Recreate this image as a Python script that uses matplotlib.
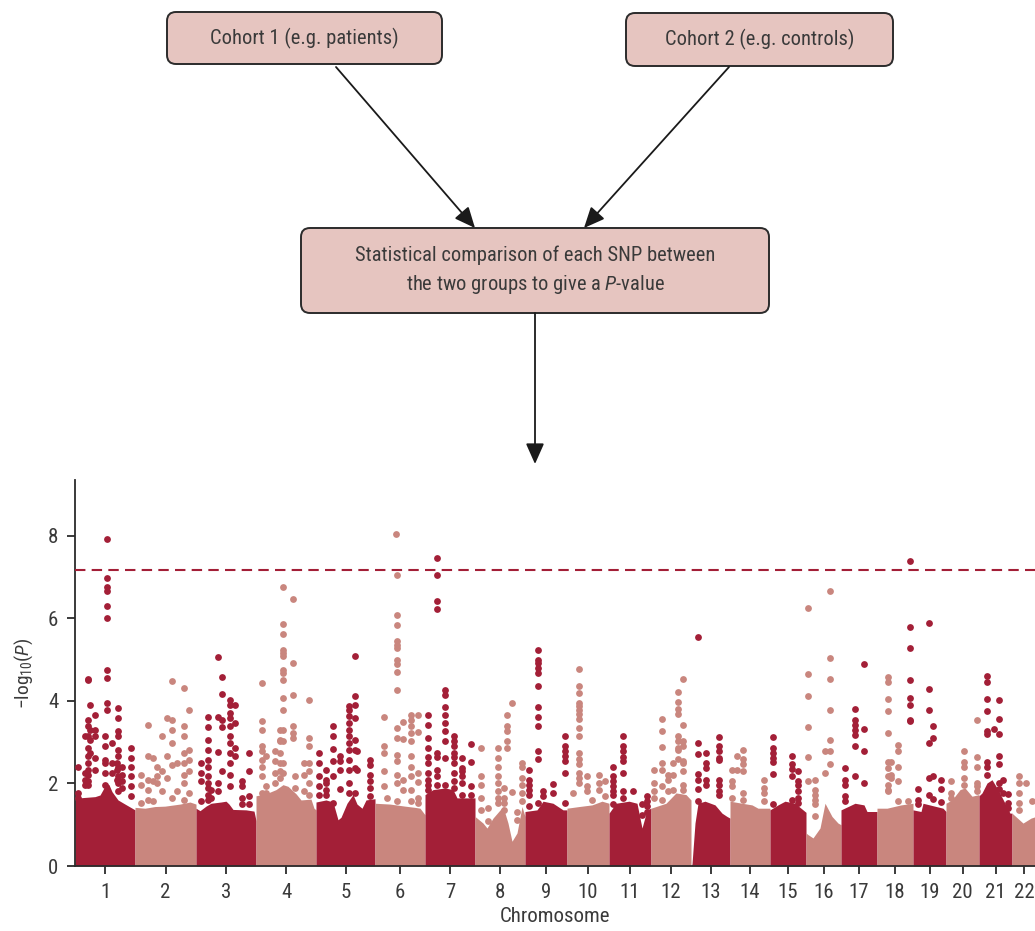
import numpy as np
import matplotlib
matplotlib.use('Agg')
import matplotlib.pyplot as plt
from matplotlib.patches import FancyBboxPatch

plt.rcParams['font.family'] = ['Roboto Condensed', 'DejaVu Sans']
plt.rcParams['mathtext.fontset'] = 'custom'
plt.rcParams['mathtext.rm'] = 'Roboto Condensed'
plt.rcParams['mathtext.it'] = 'Roboto Condensed:italic'

# chromosomes and their drawn widths on the x axis
chrom_names = [str(i) for i in range(1, 23)]
chrom_width = [60, 61, 60, 60, 59, 50, 50, 50, 42, 42, 42, 40, 39, 40, 36, 35, 36, 36, 33, 33, 33, 24]

# top of the dense SNP cloud per chromosome (position in chromosome, -log10 P)
fill_pos = [
    [0, 4, 20, 25, 28, 31, 34, 37, 43, 50, 60],
    [0, 10, 20, 30, 45, 55, 61],
    [0, 4, 10, 15, 25, 30, 33, 37, 50, 58, 60],
    [0, 10, 20, 27, 32, 40, 45, 55, 58, 60],
    [0, 10, 17, 22, 25, 31, 37, 41, 46, 50, 59],
    [0, 15, 30, 40, 45, 50],
    [0, 8, 20, 28, 32, 50],
    [0, 8, 12, 18, 28, 33, 37, 42, 47, 50],
    [0, 12, 18, 28, 38, 42],
    [0, 12, 25, 35, 42],
    [0, 7, 20, 28, 33, 38, 42],
    [0, 15, 25, 35, 40],
    [0, 1, 4, 7, 14, 24, 31, 36, 39],
    [0, 12, 22, 28, 40],
    [0, 8, 15, 25, 36],
    [0, 2, 7, 14, 19, 26, 32, 35],
    [0, 14, 23, 26, 36],
    [0, 10, 24, 36],
    [0, 8, 10, 30, 33],
    [0, 6, 14, 19, 26, 33],
    [0, 3, 8, 13, 19, 26, 31, 33],
    [0, 11, 19, 24],
]
fill_val = [
    [1.58, 1.65, 1.68, 1.72, 1.85, 2.0, 1.97, 1.8, 1.6, 1.5, 1.36],
    [1.42, 1.40, 1.44, 1.45, 1.50, 1.55, 1.5],
    [1.40, 1.34, 1.45, 1.52, 1.55, 1.57, 1.5, 1.37, 1.36, 1.33, 1.1],
    [1.70, 1.75, 1.85, 1.97, 1.93, 1.75, 1.6, 1.62, 1.4, 1.36],
    [1.55, 1.60, 1.55, 1.12, 1.18, 1.52, 1.73, 1.5, 1.4, 1.6, 1.63],
    [1.52, 1.50, 1.45, 1.42, 1.40, 1.24],
    [1.73, 1.85, 1.89, 1.85, 1.65, 1.65],
    [1.2, 1.04, 0.92, 1.16, 1.44, 1.04, 0.6, 0.8, 1.44, 1.2],
    [1.32, 1.36, 1.57, 1.52, 1.36, 1.36],
    [1.40, 1.44, 1.48, 1.57, 1.52],
    [1.28, 1.52, 1.57, 1.52, 0.92, 1.36, 1.40],
    [1.40, 1.52, 1.77, 1.73, 1.6],
    [0.0, 0.05, 1.04, 1.52, 1.57, 1.48, 1.28, 1.2, 1.16],
    [1.57, 1.52, 1.48, 1.40, 1.40],
    [1.36, 1.48, 1.57, 1.52, 1.3],
    [0.8, 0.76, 0.68, 0.92, 1.52, 1.2, 1.04, 1.0],
    [1.36, 1.52, 1.48, 1.32, 1.32],
    [1.40, 1.40, 1.48, 1.52],
    [1.36, 1.32, 1.52, 1.40, 1.32],
    [1.52, 1.6, 1.85, 1.89, 1.69, 1.73],
    [1.7, 1.77, 2.01, 2.09, 1.85, 1.52, 1.28, 1.28],
    [1.28, 1.04, 1.16, 1.2],
]

# individual SNPs above the cloud: chromosome, position, -log10 P values
hit_chrom = [1, 1, 1, 1, 1, 1, 1, 1, 1, 1, 1, 1,
             2, 2, 2, 2, 2, 2, 2, 2, 2, 2,
             3, 3, 3, 3, 3, 3, 3, 3, 3,
             4, 4, 4, 4, 4, 4, 4, 4, 4,
             5, 5, 5, 5, 5, 5, 5, 5,
             6, 6, 6, 6, 6, 6, 6,
             7, 7, 7, 7, 7, 7,
             8, 8, 8, 8, 8, 8, 8, 8,
             9, 9, 9, 9, 9,
             10, 10, 10, 10, 10, 10,
             11, 11, 11, 11, 11,
             12, 12, 12, 12, 12, 12,
             13, 13, 13,
             14, 14, 14, 14,
             15, 15, 15,
             16, 16, 16, 16,
             17, 17, 17,
             18, 18, 18, 18,
             19, 19, 19, 19, 19,
             20, 20, 20,
             21, 21, 21, 21, 21,
             22, 22, 22]
hit_pos = [3, 10, 13, 15, 20, 30, 32, 37, 42, 43, 47, 56,
           5.7, 13.3, 17.7, 21.7, 27.3, 31.7, 36.7, 41.7, 49.3, 54,
           5, 12.3, 14.7, 21.7, 26.3, 34, 39, 46.3, 53,
           5.7, 10, 19.3, 24, 26.7, 36.7, 39, 48, 53.3,
           3.3, 10, 17.3, 24, 33, 39, 41, 54,
           9, 12, 21, 22, 28.3, 35.7, 42.7,
           2.7, 12.3, 20, 29, 36.7, 46,
           5.7, 13.3, 22.7, 29.3, 31.7, 37.3, 41.7, 46.7,
           4, 13.3, 18.3, 27.7, 40,
           5.7, 12.3, 19.7, 24.7, 32, 38,
           4.3, 13.7, 24.3, 32.7, 37.7,
           3, 10.7, 17.3, 22.3, 27.3, 32.3,
           6.7, 14.7, 28.3,
           1.7, 6.7, 13.3, 33.7,
           3, 21.7, 28.3,
           2.3, 9, 19, 24,
           4, 13.7, 23,
           10.7, 14, 21.3, 31.3,
           -3, 5.3, 16, 20.3, 28,
           4.7, 18.3, 30.7,
           7.7, 15.3, 20, 24.3, 29.3,
           7.3, 13.7, 20.3]
hit_vals = [
    [2.39, 1.77, 1.65], [3.14, 2.25, 2.09, 1.97],
    [4.53, 4.50, 3.54, 3.38, 3.14, 2.86, 2.66, 2.49, 2.33, 2.21, 2.05, 1.97],
    [3.91, 3.30, 3.04, 2.74], [3.66, 3.30, 3.14, 2.62, 2.33],
    [3.14, 2.90, 2.57, 2.49, 2.25, 1.97],
    [7.93, 6.97, 6.77, 6.65, 6.29, 6.00, 4.75, 4.55, 3.95, 3.79],
    [2.98, 2.49, 2.25], [2.49, 2.33, 2.09],
    [3.83, 3.58, 3.26, 3.14, 2.82, 2.66, 2.41, 2.17, 2.01, 1.81],
    [2.41, 2.21, 2.05, 1.89], [2.86, 2.62, 2.41, 2.17, 1.93, 1.69],
    [2.21, 1.97, 1.53], [3.42, 2.66, 2.09, 1.85, 1.61], [2.62, 2.05, 1.57],
    [2.41, 2.17, 2.01], [3.14, 2.29, 1.81], [3.58, 2.66, 2.13],
    [4.47, 3.54, 3.30, 2.98, 2.45, 1.65], [2.49, 1.81],
    [4.31, 3.38, 3.14, 2.74, 2.49, 2.21, 2.01, 1.61], [3.79, 2.82, 2.57, 2.29, 1.77],
    [2.49, 2.25, 2.05, 1.57],
    [3.61, 3.36, 3.04, 2.82, 2.57, 2.41, 2.19, 2.01, 1.89, 1.73, 1.61],
    [1.85, 1.65], [5.06, 3.61, 2.75, 2.01, 1.81], [4.59, 4.16, 3.54, 3.36, 2.29],
    [4.03, 3.91, 3.70, 3.58, 3.38, 3.14, 2.98, 2.74, 2.49, 2.21, 1.93],
    [3.91, 3.46, 2.86, 2.66], [2.05, 1.93, 1.65, 1.49], [2.74, 2.29, 1.69, 1.49],
    [4.43, 3.52, 3.30, 2.90, 2.78, 2.57, 2.41, 2.17, 1.77], [2.66, 1.93, 1.77],
    [2.78, 2.54, 2.25, 2.01], [3.30, 3.06, 3.02, 2.74, 2.49, 2.29, 2.13],
    [6.76, 5.86, 5.62, 5.24, 5.16, 5.08, 4.75, 4.67, 4.51, 4.07, 3.79, 3.30, 3.02, 2.49, 2.25],
    [6.47, 4.92, 4.15, 3.38, 3.22, 3.10], [2.17, 1.89], [2.49, 2.21, 1.81],
    [4.03, 3.10, 2.90, 2.49, 2.29, 2.01, 1.73],
    [2.74, 2.49, 2.17, 1.93, 1.73], [2.33, 2.09, 2.01, 1.85, 1.73],
    [3.38, 3.16, 2.83, 2.54, 2.17, 1.53], [2.66, 2.54, 2.33, 1.86],
    [3.87, 3.79, 3.63, 3.47, 3.30, 3.14, 2.98, 2.82, 2.57, 2.33, 2.01, 1.77],
    [5.08, 4.11, 3.91, 3.58, 3.06, 2.82, 2.37, 1.77], [2.78, 2.33],
    [2.57, 2.45, 2.21, 2.05, 1.89, 1.69],
    [3.61, 2.91, 2.74, 2.29, 1.93], [1.65], [8.05],
    [7.05, 6.07, 5.84, 5.44, 5.36, 5.28, 4.98, 4.89, 4.71, 4.27, 3.34, 3.10, 2.70, 2.54, 2.21, 2.01, 1.57],
    [3.50, 3.07, 2.09, 1.85], [3.66, 3.54, 3.38, 3.22, 3.02, 2.66, 2.41, 2.17, 1.85, 1.57],
    [3.66, 3.24, 2.25, 2.03, 1.65, 1.53],
    [3.66, 3.42, 3.10, 2.86, 2.65, 2.49, 2.25, 2.09, 1.97, 1.85],
    [7.46, 7.04, 6.41, 6.22, 2.74, 2.65, 2.33, 2.17, 1.97],
    [4.27, 4.15, 3.85, 3.66, 3.46, 3.26, 3.02, 2.62, 1.97],
    [3.14, 3.02, 2.90, 2.74, 2.65, 2.49, 2.25, 2.05, 1.89],
    [2.62, 2.37, 2.29, 2.17, 2.01, 1.73], [2.96, 2.53, 1.93, 1.73],
    [2.86, 2.17, 1.97, 1.65, 1.36], [1.40, 1.08],
    [2.86, 2.62, 2.41, 2.17, 2.01, 1.81, 1.65, 1.53], [1.89, 1.65, 1.53, 1.36],
    [3.66, 3.38, 3.28, 3.02, 2.86], [3.96, 1.79], [1.32, 1.12],
    [2.49, 2.41, 2.13, 1.97, 1.77, 1.57],
    [2.33, 2.09, 1.97, 1.85, 1.73, 1.45],
    [5.24, 5.00, 4.92, 4.80, 4.67, 4.35, 3.85, 3.61, 3.40, 2.79, 2.58, 1.53],
    [1.81, 1.69], [1.99, 1.77], [3.14, 2.90, 2.78, 2.66, 2.54, 2.25, 1.53],
    [1.78],
    [4.78, 4.35, 4.19, 3.95, 3.87, 3.79, 3.67, 3.55, 3.34, 3.14, 2.74, 2.58, 2.46, 2.25, 2.13, 2.01],
    [2.17, 1.93, 1.81], [1.61], [2.21, 2.01, 1.85], [2.05, 1.69],
    [2.39, 2.17, 2.05, 1.93, 1.81, 1.73, 1.49],
    [3.14, 2.90, 2.78, 2.64, 2.54, 2.25, 1.81, 1.65], [1.81], [1.49, 1.24],
    [1.69, 1.57, 1.45, 1.32],
    [2.33, 2.01, 1.81, 1.65], [3.56, 3.26, 2.88, 2.49, 2.33, 1.93, 1.61],
    [2.21, 2.09, 1.81], [2.49, 2.21, 1.85],
    [4.21, 3.97, 3.81, 3.67, 3.14, 3.02, 2.86, 2.82, 2.58],
    [4.54, 3.42, 3.02, 2.90, 2.54, 2.49, 2.29, 1.97, 1.85],
    [5.54, 2.98, 2.71, 2.24, 2.08, 1.87, 1.58], [2.74, 2.49, 2.37, 2.09, 1.97],
    [3.12, 2.90, 2.78, 2.62, 2.57, 2.09, 1.97, 1.81, 1.73],
    [2.33, 2.05, 1.93, 1.65], [2.67, 2.33], [2.82, 2.59, 2.47, 2.29, 1.77, 1.61],
    [2.09, 1.89, 1.77, 1.57],
    [3.12, 2.86, 2.74, 2.62, 2.51, 2.24, 1.49], [2.67, 2.48, 2.35, 2.17, 1.61],
    [2.29, 2.05, 1.97, 1.81, 1.65, 1.53],
    [6.25, 4.66, 4.12, 3.36, 2.64, 2.07], [2.09, 1.85, 1.73, 1.61, 1.49, 1.20],
    [2.78, 2.25], [6.65, 5.05, 4.53, 3.77, 3.04, 2.79, 2.47],
    [2.37, 2.09, 1.97, 1.69, 1.57], [3.80, 3.54, 3.42, 3.30, 3.18, 2.91, 2.17],
    [4.89, 3.32, 2.79, 2.01],
    [4.59, 4.45, 4.05, 3.75, 3.22, 2.51, 2.37, 2.19, 1.97, 1.85, 1.81],
    [2.51, 2.21, 2.13], [2.92, 2.79, 2.39, 2.07, 1.57], [1.57],
    [7.40, 5.79, 5.28, 4.50, 4.07, 3.89, 3.54, 3.51], [1.86, 1.61, 1.49],
    [5.88, 4.29, 3.77, 2.99, 2.14, 1.71], [3.38, 3.10, 2.17, 1.63], [2.09, 1.86, 1.55],
    [2.05, 1.78, 1.65], [2.78, 2.51, 2.39, 2.13, 1.97],
    [3.54, 2.64, 2.40, 2.01, 1.93, 1.81],
    [4.61, 4.46, 4.05, 3.75, 3.26, 3.20, 2.53, 2.41, 2.21], [3.32],
    [4.03, 3.56, 3.20, 2.67, 2.47, 2.01, 1.86], [2.09, 1.78], [1.75, 1.53, 1.40],
    [2.17, 2.01, 1.77, 1.53, 1.36], [2.01], [1.57],
]

threshold = 7.17

dark = '#a31f37'
light = '#c9867e'
box_face = '#e6c5c0'
ink = '#2b2b2b'
text_col = '#3a3a3a'

W, H = 1035, 931
fig = plt.figure(figsize=(W / 100, H / 100), dpi=100)

# ---- Manhattan plot ----
ax = fig.add_axes([75 / W, 65 / H, 960 / W, (866 - 480) / H])
starts = np.concatenate([[0], np.cumsum(chrom_width)[:-1]])
colors = [dark if i % 2 == 0 else light for i in range(len(chrom_names))]

for i in range(len(chrom_names)):
    x = starts[i] + np.array(fill_pos[i])
    ax.fill_between(x, 0, fill_val[i], color=colors[i], lw=0, zorder=2)

for c, p, vals in zip(hit_chrom, hit_pos, hit_vals):
    xs = np.full(len(vals), starts[c - 1] + p)
    ax.scatter(xs, vals, s=24, color=colors[c - 1], lw=0, zorder=3)

ax.axhline(threshold, color=dark, lw=1.5, ls=(0, (5, 3)), zorder=4)

ax.set_xlim(0, 960)
ax.set_ylim(0, 9.35)
ax.set_xticks(starts + np.array(chrom_width) / 2, chrom_names)
ax.set_yticks([0, 2, 4, 6, 8])
for s in ['top', 'right']:
    ax.spines[s].set_visible(False)
for s in ['left', 'bottom']:
    ax.spines[s].set_linewidth(1.3)
    ax.spines[s].set_color(ink)
ax.tick_params(length=6, width=1.3, color=ink, labelcolor=text_col, labelsize=15, pad=6)
ax.set_xlabel('Chromosome', fontsize=15, color=text_col, labelpad=4)
ax.set_ylabel(r'$\mathregular{-log_{10}(}\mathit{P}\mathregular{)}$', fontsize=14,
              color=text_col, labelpad=9)

# ---- flow chart ----
fo = fig.add_axes([0, 0, 1, 1])
fo.set_xlim(0, W)
fo.set_ylim(H, 0)
fo.axis('off')

boxes = [(167, 12, 275, 52, 'Cohort 1 (e.g. patients)'),
         (626, 13, 267, 53, 'Cohort 2 (e.g. controls)'),
         (301, 228, 468, 85,
          'Statistical comparison of each SNP between\nthe two groups to give a $\\mathit{P}$-value')]
for bx, by, bw, bh, label in boxes:
    fo.add_patch(FancyBboxPatch((bx, by), bw, bh, boxstyle='round,pad=0,rounding_size=9',
                                fc=box_face, ec=ink, lw=1.4))
    fo.text(bx + bw / 2, by + bh / 2, label, ha='center', va='center', fontsize=14.8,
            color=text_col, linespacing=1.45)

arrows = [((336, 67), (475, 228)), ((729, 67), (584, 228)), ((535, 313), (535, 464))]
for (x0, y0), (x1, y1) in arrows:
    fo.annotate('', xy=(x1, y1), xytext=(x0, y0),
                arrowprops=dict(arrowstyle='-|>,head_length=0.9,head_width=0.4',
                                color='#1a1a1a', lw=1.3, shrinkA=0, shrinkB=0,
                                mutation_scale=14))

fig.savefig('out.png', dpi=100)
